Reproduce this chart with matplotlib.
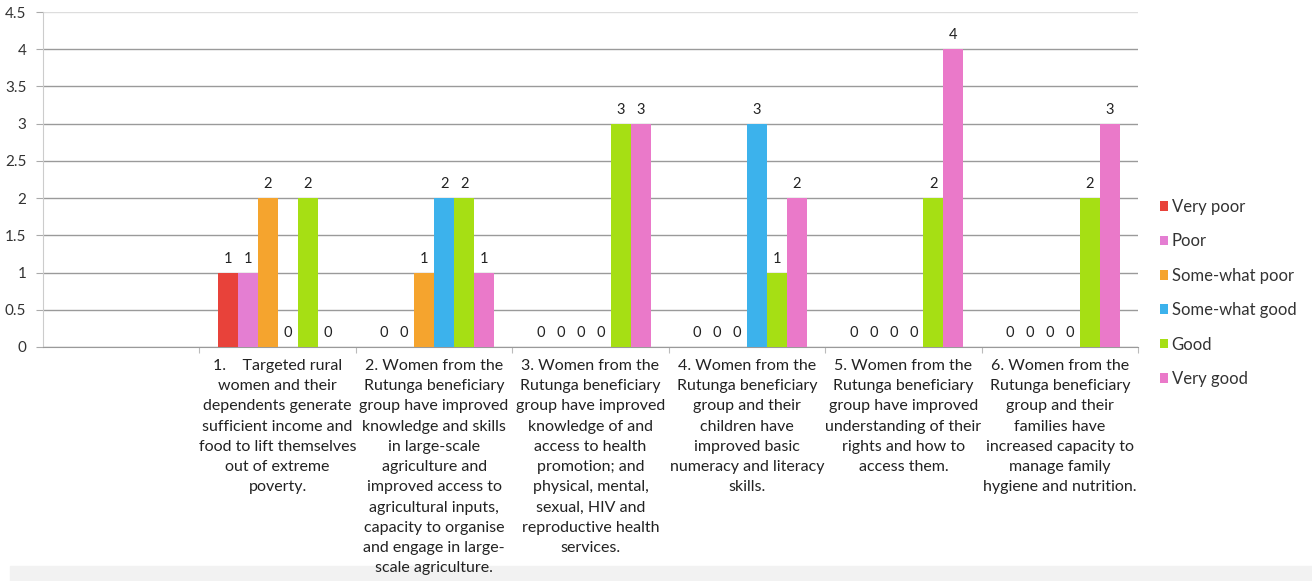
import numpy as np
import matplotlib.pyplot as plt
from matplotlib.patches import Rectangle

plt.rcParams['font.family'] = ['Lato', 'DejaVu Sans']

# outcome categories (first slot is a blank row in the sheet)
categories = [
    '',
    '1.    Targeted rural\nwomen and their\ndependents generate\nsufficient income and\nfood to lift themselves\nout of extreme\npoverty.',
    '2. Women from the\nRutunga beneficiary\ngroup have improved\nknowledge and skills\nin large-scale\nagriculture and\nimproved access to\nagricultural inputs,\ncapacity to organise\nand engage in large-\nscale agriculture.',
    '3. Women from the\nRutunga beneficiary\ngroup have improved\nknowledge of and\naccess to health\npromotion; and\nphysical, mental,\nsexual, HIV and\nreproductive health\nservices.',
    '4. Women from the\nRutunga beneficiary\ngroup and their\nchildren have\nimproved basic\nnumeracy and literacy\nskills.',
    '5. Women from the\nRutunga beneficiary\ngroup have improved\nunderstanding of their\nrights and how to\naccess them.',
    '6. Women from the\nRutunga beneficiary\ngroup and their\nfamilies have\nincreased capacity to\nmanage family\nhygiene and nutrition.',
]

series_names = ['Very poor', 'Poor', 'Some-what poor', 'Some-what good', 'Good', 'Very good']
nan = np.nan
very_poor = [nan, 1, 0, 0, 0, 0, 0]
poor = [nan, 1, 0, 0, 0, 0, 0]
somewhat_poor = [nan, 2, 1, 0, 0, 0, 0]
somewhat_good = [nan, 0, 2, 0, 3, 0, 0]
good = [nan, 2, 2, 3, 1, 2, 2]
very_good = [nan, 0, 1, 3, 2, 4, 3]
series = [very_poor, poor, somewhat_poor, somewhat_good, good, very_good]
colors = ['#E8423A', '#E47ED2', '#F5A42E', '#3CB2EC', '#A6DF14', '#EA79C9']

fig = plt.figure(figsize=(13.12, 5.81), dpi=100)
ax = fig.add_axes([43 / 1312, 1 - 347 / 581, (1138 - 43) / 1312, 335 / 581])

x = np.arange(len(categories))
w = 0.128
for i, (vals, name, c) in enumerate(zip(series, series_names, colors)):
    pos = x + (i - 2.5) * w
    ax.bar(pos, vals, width=w, color=c, label=name, zorder=3)
    for xp, v in zip(pos, vals):
        if np.isnan(v):
            continue
        ax.annotate('%d' % v, (xp, v), xytext=(0, 5), textcoords='offset points',
                    ha='center', va='bottom', fontsize=10.5, color='#222222')

ax.set_xlim(-0.5, len(categories) - 0.5)
ax.set_ylim(0, 4.5)
ax.set_yticks(np.arange(0, 4.51, 0.5))
ax.set_yticklabels(['0', '0.5', '1', '1.5', '2', '2.5', '3', '3.5', '4', '4.5'])
ax.set_xticks(x + 0.5)
ax.set_xticklabels([])
ax.tick_params(axis='x', length=4, color='#BBBBBB', direction='out')
ax.tick_params(axis='y', length=5, color='#AAAAAA', labelsize=11,
               labelcolor='#333333', pad=7)

ax.yaxis.grid(True, color='#9A9A9A', linewidth=1, zorder=0)
ax.yaxis.get_gridlines()[-1].set_color('#DDDDDD')
for s in ['top', 'right']:
    ax.spines[s].set_visible(False)
ax.spines['left'].set_color('#CCCCCC')
ax.spines['bottom'].set_color('#9A9A9A')

# category labels under the axis
for xi, lab in zip(x, categories):
    ax.text(xi, -0.035, lab, transform=ax.get_xaxis_transform(), ha='center',
            va='top', fontsize=11.5, color='#222222', linespacing=1.57)

fig.legend(loc='center left', bbox_to_anchor=(1145 / 1312, 1 - 293 / 581),
           frameon=False, fontsize=12, handlelength=0.5, handleheight=0.5,
           handletextpad=0.2, labelspacing=1.1, labelcolor='#333333')

# pale band along the bottom edge, behind everything
fig.patches.append(Rectangle((0.008, 0), 1, 15 / 581, transform=fig.transFigure,
                             color='#F2F2F2', zorder=-1))

fig.savefig('out.png', dpi=100)
